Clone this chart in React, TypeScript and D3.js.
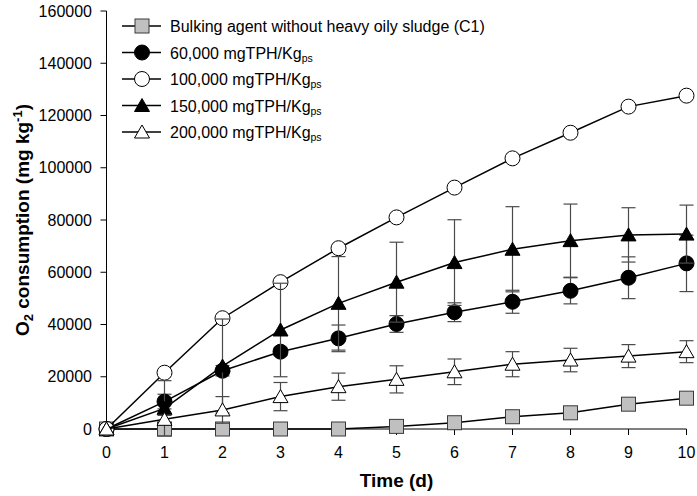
import React from "react";
import * as d3 from "d3";

const days = [0, 1, 2, 3, 4, 5, 6, 7, 8, 9, 10];
const c1 = [0, 0, 0, 0, 0, 1000, 2400, 4700, 6200, 9500, 11800];
const s60 = [0, 10500, 22300, 29600, 34700, 40200, 44700, 48700, 52900, 57900, 63400];
const s60err = [0, 2800, 2000, 1500, 5100, 3200, 3600, 4400, 5000, 8000, 10800];
const s100 = [0, 21550, 42400, 56200, 69200, 81000, 92400, 103600, 113400, 123400, 127600];
const s150 = [0, 7900, 24100, 37900, 48100, 56200, 63700, 68800, 72100, 74300, 74600];
const s150err = [0, 10600, 18000, 17900, 17900, 15300, 16400, 16300, 14000, 10400, 11100];
const s200 = [0, 3700, 7300, 12400, 16200, 19000, 21900, 24800, 26400, 27900, 29600];
const s200err = [0, 1500, 5100, 5400, 5200, 5200, 4900, 4800, 4500, 4400, 4200];
const yTicks = [0, 20000, 40000, 60000, 80000, 100000, 120000, 140000, 160000];
const xTicks = [0, 1, 2, 3, 4, 5, 6, 7, 8, 9, 10];

const legendMain = [
  "Bulking agent without heavy oily sludge (C1)",
  "60,000 mgTPH/Kg",
  "100,000 mgTPH/Kg",
  "150,000 mgTPH/Kg",
  "200,000 mgTPH/Kg",
];
const legendSub = ["", "ps", "ps", "ps", "ps"];

type Shape = "square" | "circleFill" | "circleOpen" | "triFill" | "triOpen";
const series: { values: number[]; err: number[] | null; shape: Shape }[] = [
  { values: c1, err: null, shape: "square" },
  { values: s60, err: s60err, shape: "circleFill" },
  { values: s100, err: null, shape: "circleOpen" },
  { values: s150, err: s150err, shape: "triFill" },
  { values: s200, err: s200err, shape: "triOpen" },
];

const W = 697;
const H = 496;
const x = d3.scaleLinear().domain([0, 10]).range([106.5, 686.5]);
const y = d3.scaleLinear().domain([0, 160000]).range([429, 11]);
const FONT = "'Liberation Sans', Arial, sans-serif";

function Marker({ shape, cx, cy }: { shape: Shape; cx: number; cy: number }) {
  if (shape === "square")
    return <rect x={cx - 7} y={cy - 7} width={14} height={14} fill="#c0c0c0" stroke="#3a3a3a" strokeWidth={1} />;
  if (shape === "circleFill") return <circle cx={cx} cy={cy} r={7.5} fill="#000" stroke="#000" />;
  if (shape === "circleOpen") return <circle cx={cx} cy={cy} r={7.5} fill="#fff" stroke="#000" />;
  const p = `M${cx},${cy - 7} L${cx + 7.5},${cy + 6} L${cx - 7.5},${cy + 6} Z`;
  return <path d={p} fill={shape === "triFill" ? "#000" : "#fff"} stroke="#000" strokeWidth={1} />;
}

export default function App() {
  const line = d3
    .line<number>()
    .x((_, i) => x(days[i]))
    .y((v) => y(v));
  const legendRows = [26, 52.5, 79, 105.5, 132];
  return (
    <svg
      width={W}
      height={H}
      style={{ position: "absolute", left: 0, top: 0, background: "#fff" }}
      fontFamily={FONT}
    >
      <rect width={W} height={H} fill="#fff" />
      {/* axes */}
      <line x1={x(0)} x2={x(0)} y1={y(160000)} y2={y(0)} stroke="#000" strokeWidth={1} />
      <line x1={x(0)} x2={x(10)} y1={y(0)} y2={y(0)} stroke="#000" strokeWidth={1} />
      {yTicks.map((t) => (
        <g key={"y" + t}>
          <line x1={x(0) - 6} x2={x(0)} y1={y(t)} y2={y(t)} stroke="#000" />
          <text x={92} y={y(t)} dy="0.35em" textAnchor="end" fontSize={16}>
            {t}
          </text>
        </g>
      ))}
      {xTicks.map((t) => (
        <g key={"x" + t}>
          <line x1={x(t)} x2={x(t)} y1={y(0)} y2={y(0) + 6} stroke="#000" />
          <text x={x(t)} y={457.5} textAnchor="middle" fontSize={16}>
            {t}
          </text>
        </g>
      ))}
      <text x={396.5} y={487} textAnchor="middle" fontSize={19} fontWeight="bold">
        Time (d)
      </text>
      <text
        transform={`translate(29,${y(80000)}) rotate(-90)`}
        textAnchor="middle"
        fontSize={19}
        fontWeight="bold"
      >
        O<tspan fontSize={13} dy={4}>2</tspan>
        <tspan dy={-4}> consumption (mg kg</tspan>
        <tspan fontSize={13} dy={-7}>-1</tspan>
        <tspan dy={7}>)</tspan>
      </text>
      {/* series */}
      {series.map((s, si) => (
        <g key={"s" + si}>
          <path d={line(s.values) || ""} fill="none" stroke="#000" strokeWidth={1.5} />
          {s.err &&
            s.values.map((v, i) =>
              s.err![i] > 0 ? (
                <g key={"e" + i} stroke="#4a4a4a" strokeWidth={1.2}>
                  <line x1={x(days[i])} x2={x(days[i])} y1={y(v + s.err![i])} y2={y(v - s.err![i])} />
                  <line x1={x(days[i]) - 7} x2={x(days[i]) + 7} y1={y(v + s.err![i])} y2={y(v + s.err![i])} />
                  <line x1={x(days[i]) - 7} x2={x(days[i]) + 7} y1={y(v - s.err![i])} y2={y(v - s.err![i])} />
                </g>
              ) : null
            )}
          {s.values.map((v, i) => (
            <Marker key={"m" + i} shape={s.shape} cx={x(days[i])} cy={y(v)} />
          ))}
        </g>
      ))}
      {/* legend */}
      {series.map((s, i) => (
        <g key={"l" + i}>
          <line x1={122} x2={161} y1={legendRows[i]} y2={legendRows[i]} stroke="#000" strokeWidth={1.5} />
          <Marker shape={s.shape} cx={142} cy={legendRows[i]} />
          <text x={170} y={legendRows[i] + 6} fontSize={16}>
            {legendMain[i]}
            {legendSub[i] && (
              <tspan fontSize={10.5} dy={3}>
                {legendSub[i]}
              </tspan>
            )}
          </text>
        </g>
      ))}
    </svg>
  );
}
